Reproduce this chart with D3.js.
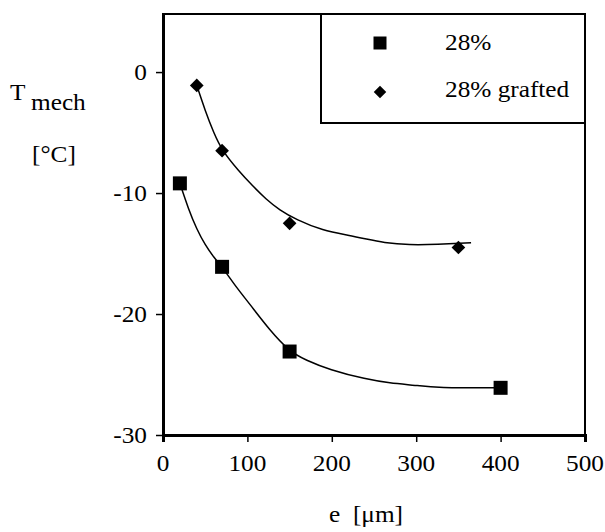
<!DOCTYPE html>
<html>
<head>
    <meta charset="utf-8">
    <script src="https://d3js.org/d3.v7.min.js"></script>
    <style>
        body { margin: 0; background: #fff; }
        text { font-family: "Liberation Serif", "Times New Roman", serif; fill: #000; }
    </style>
</head>
<body>
    <div id="chart"></div>

    <script>
        // measured points
        const thickness = [20, 70, 150, 400];
        const tmech28 = [-9.2, -16.1, -23.1, -26.1];
        const thicknessGrafted = [40, 70, 150, 350];
        const tmechGrafted = [-1.1, -6.5, -12.5, -14.5];

        // fitted curves
        const fitX28 = [20, 30, 40, 50, 60, 70, 88, 102, 126, 150, 169, 197, 241, 268, 300, 324, 400];
        const fitY28 = [-9.2, -11.3, -13.0, -14.3, -15.3, -16.1, -17.9, -19.1, -21.3, -23.1, -23.8, -24.6, -25.4, -25.7, -25.9, -26.1, -26.1];
        const fitXGrafted = [40, 50, 60, 70, 90, 106, 122, 138, 158, 189, 221, 241, 261, 292, 324, 365];
        const fitYGrafted = [-1.1, -3.2, -5.0, -6.5, -8.2, -9.4, -10.5, -11.4, -12.2, -13.1, -13.5, -13.8, -14.1, -14.3, -14.25, -14.1];

        const xTicks = [0, 100, 200, 300, 400, 500];
        const yTicks = [-30, -20, -10, 0];
        const legendLabels = ["28%", "28% grafted"];

        const width = 605;
        const height = 532;
        const margin = {top: 14, right: 20, bottom: 97, left: 163};
        const stretch = 1.1;
        const fontSize = 23;

        const svg = d3.select("#chart")
            .append("svg")
            .attr("width", width)
            .attr("height", height);

        const x = d3.scaleLinear()
            .domain([0, 500])
            .range([margin.left, width - margin.right]);

        const y = d3.scaleLinear()
            .domain([-30, 4.8])
            .range([height - margin.bottom, margin.top]);

        // slightly wide serif text like the scan
        function label(g, tx, ty, str, size, anchor) {
            return g.append("text")
                .attr("transform", `translate(${tx},${ty}) scale(${stretch},1)`)
                .attr("font-size", size)
                .attr("text-anchor", anchor || "start")
                .text(str);
        }

        // frame
        svg.append("rect")
            .attr("x", x(0))
            .attr("y", y(4.8))
            .attr("width", x(500) - x(0))
            .attr("height", y(-30) - y(4.8))
            .attr("fill", "none")
            .attr("stroke", "#000")
            .attr("stroke-width", 2);

        // axes
        const xAxis = svg.append("g")
            .attr("transform", `translate(0,${y(-30)})`)
            .call(d3.axisBottom(x).tickValues(xTicks).tickSize(7).tickFormat(""));
        xAxis.select(".domain").attr("stroke-width", 3);
        xAxis.selectAll(".tick line").attr("stroke-width", 1.5);

        const yAxis = svg.append("g")
            .attr("transform", `translate(${x(0)},0)`)
            .call(d3.axisLeft(y).tickValues(yTicks).tickSize(7).tickFormat("").tickSizeOuter(0));
        yAxis.select(".domain").attr("stroke-width", 3);
        yAxis.selectAll(".tick line").attr("stroke-width", 1.5);

        xTicks.forEach(t => label(svg, x(t), y(-30) + 36, String(t), fontSize, "middle"));
        yTicks.forEach(t => label(svg, x(0) - 16, y(t) + 8, String(t), fontSize, "end"));

        // fitted curves
        const line = d3.line()
            .x(d => x(d[0]))
            .y(d => y(d[1]))
            .curve(d3.curveBasis);

        svg.append("path")
            .datum(d3.zip(fitX28, fitY28))
            .attr("d", line)
            .attr("fill", "none")
            .attr("stroke", "#000")
            .attr("stroke-width", 1.5);

        svg.append("path")
            .datum(d3.zip(fitXGrafted, fitYGrafted))
            .attr("d", line)
            .attr("fill", "none")
            .attr("stroke", "#000")
            .attr("stroke-width", 1.5);

        // markers
        const square = d3.symbol().type(d3.symbolSquare).size(196);
        const diamond = d3.symbol().type(d3.symbolDiamond2).size(120);

        svg.selectAll(".sq")
            .data(d3.zip(thickness, tmech28))
            .enter()
            .append("path")
            .attr("class", "sq")
            .attr("d", square)
            .attr("transform", d => `translate(${x(d[0])},${y(d[1])})`);

        svg.selectAll(".dm")
            .data(d3.zip(thicknessGrafted, tmechGrafted))
            .enter()
            .append("path")
            .attr("class", "dm")
            .attr("d", diamond)
            .attr("transform", d => `translate(${x(d[0])},${y(d[1])})`);

        // legend
        const legend = svg.append("g");
        legend.append("rect")
            .attr("x", 321)
            .attr("y", y(4.8))
            .attr("width", x(500) - 321)
            .attr("height", 109)
            .attr("fill", "#fff")
            .attr("stroke", "#000")
            .attr("stroke-width", 2);
        legend.append("path")
            .attr("d", d3.symbol().type(d3.symbolSquare).size(169))
            .attr("transform", "translate(380,43)");
        legend.append("path")
            .attr("d", d3.symbol().type(d3.symbolDiamond2).size(100))
            .attr("transform", "translate(380,92)");
        label(legend, 445, 50, legendLabels[0], fontSize);
        label(legend, 445, 97, legendLabels[1], fontSize);

        // axis titles
        label(svg, 10, 100, "T", fontSize);
        label(svg, 31, 110, "mech", fontSize);
        label(svg, 32, 162, "[°C]", fontSize);
        label(svg, 366, 522, "e  [μm]", fontSize, "middle").attr("xml:space", "preserve");
    </script>
</body>
</html>
